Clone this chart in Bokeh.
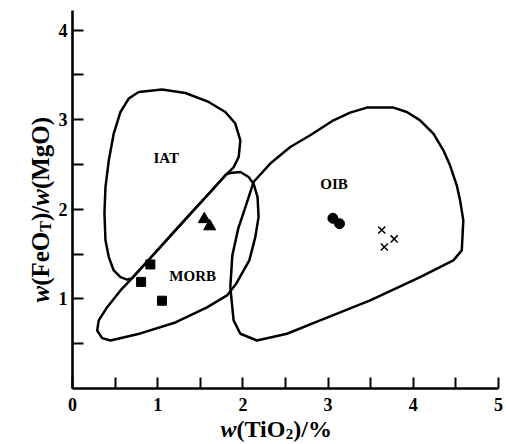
import math
from bokeh.plotting import figure
from bokeh.models import Range1d, FixedTicker, Label, LinearAxis
from bokeh.core.properties import value
from bokeh.embed import file_html
from bokeh.resources import INLINE

# ---- field boundaries (data coordinates) ----
iat_x = [0.777, 1.052, 1.325, 1.598, 1.794, 1.911, 1.970, 1.950, 1.891, 1.805,
         1.618, 1.383, 1.149, 0.914, 0.700, 0.641, 0.563, 0.484, 0.426, 0.387,
         0.375, 0.387, 0.426, 0.484, 0.563, 0.660]
iat_y = [3.311, 3.337, 3.299, 3.199, 3.087, 2.958, 2.771, 2.584, 2.469, 2.391,
         2.194, 1.949, 1.703, 1.457, 1.232, 1.215, 1.244, 1.318, 1.467, 1.654,
         1.955, 2.249, 2.547, 2.846, 3.087, 3.237]

morb_x = [1.805, 1.618, 1.383, 1.149, 0.914, 0.700, 0.563, 0.407, 0.308, 0.290,
          0.348, 0.445, 0.797, 1.208, 1.579, 1.814, 1.923, 2.075, 2.145, 2.184,
          2.172, 2.125, 2.067, 1.970, 1.852]
morb_y = [2.391, 2.194, 1.949, 1.703, 1.457, 1.232, 1.095, 0.908, 0.760, 0.648,
          0.562, 0.536, 0.615, 0.737, 0.905, 1.039, 1.173, 1.430, 1.687, 1.914,
          2.137, 2.287, 2.361, 2.417, 2.406]

oib_x = [2.125, 2.321, 2.556, 2.790, 3.063, 3.259, 3.455, 3.767, 3.924, 4.080,
         4.236, 4.353, 4.431, 4.510, 4.549, 4.587, 4.569, 4.470, 4.080, 3.494,
         2.907, 2.517, 2.165, 1.970, 1.891, 1.852, 1.876, 1.946, 2.040]
oib_y = [2.305, 2.511, 2.696, 2.827, 2.994, 3.080, 3.136, 3.136, 3.087, 2.994,
         2.846, 2.659, 2.492, 2.268, 2.101, 1.877, 1.542, 1.430, 1.244, 0.983,
         0.760, 0.611, 0.536, 0.611, 0.760, 1.132, 1.486, 1.788, 2.056]

field_names = ["IAT", "MORB", "OIB"]
field_label_x = [1.10, 1.41, 3.07]
field_label_y = [2.57, 1.26, 2.28]

# ---- samples ----
square_x = [0.914, 0.805, 1.05]
square_y = [1.385, 1.19, 0.98]
triangle_x = [1.547, 1.61]
triangle_y = [1.89, 1.81]
circle_x = [3.056, 3.134]
circle_y = [1.90, 1.84]
cross_x = [3.63, 3.775, 3.66]
cross_y = [1.77, 1.67, 1.58]

x_ticks = [0, 1, 2, 3, 4, 5]
x_minor = [0.5, 1.5, 2.5, 3.5, 4.5]
y_ticks = [1, 2, 3, 4]
y_minor = [0.5, 1.5, 2.5, 3.5]
x_axis_end = 5.0
y_axis_end = 4.22

FONT = "Liberation Serif"
W, H = 506, 444
# pixel position of the data origin and scale (frame covers the whole canvas)
OX, OY = 72, 388
SX = (498 - OX) / x_axis_end
SY = (OY - 10) / y_axis_end

p = figure(width=W, height=H, output_backend="svg", toolbar_location=None,
           x_range=Range1d(-OX / SX, (W - OX) / SX),
           y_range=Range1d(-(H - OY) / SY, OY / SY),
           x_axis_location=None, y_axis_location=None,
           min_border_left=0, min_border_right=0, min_border_top=0,
           min_border_bottom=0)
p.outline_line_color = None
p.grid.visible = False
p.background_fill_color = "white"
p.border_fill_color = "white"

xax = LinearAxis(fixed_location=0, bounds=(0, x_axis_end),
                 ticker=FixedTicker(ticks=x_ticks, minor_ticks=x_minor))
yax = LinearAxis(fixed_location=0, bounds=(0, y_axis_end),
                 ticker=FixedTicker(ticks=y_ticks, minor_ticks=y_minor))
for ax in (xax, yax):
    ax.axis_line_width = 2.6
    ax.axis_line_color = "black"
    ax.major_tick_in = 11
    ax.major_tick_out = 0
    ax.minor_tick_in = 11
    ax.minor_tick_out = 0
    ax.major_tick_line_width = 2
    ax.minor_tick_line_width = 2
    ax.major_tick_line_color = "black"
    ax.minor_tick_line_color = "black"
    ax.major_label_text_font = FONT
    ax.major_label_text_font_style = "bold"
    ax.major_label_text_font_size = "18px"
    ax.major_label_text_color = "black"
xax.major_label_standoff = 9
yax.major_label_standoff = 5
p.add_layout(xax, "below")
p.add_layout(yax, "left")

for xs, ys in ((iat_x, iat_y), (morb_x, morb_y), (oib_x, oib_y)):
    p.line(xs + xs[:1], ys + ys[:1], line_color="black", line_width=2.5,
           line_join="round")

p.text(field_label_x, field_label_y, text=field_names, text_font=value(FONT),
       text_font_style="bold", text_font_size="15px", text_align="center",
       text_baseline="middle", text_color="black")

p.scatter(square_x, square_y, marker="square", size=9, color="black")
p.scatter(triangle_x, triangle_y, marker="triangle", size=12, color="black")
p.scatter(circle_x, circle_y, marker="circle", size=10, color="black")
p.scatter(cross_x, cross_y, marker="x", size=10, line_color="black",
          line_width=1.5)

# ---- axis titles built from pieces (italic w, subscripts) ----
# "screen" units: measured from the frame's bottom-left (= canvas bottom-left)
def piece(txt, fx, fy, size, style, angle=0.0):
    p.add_layout(Label(x=fx, y=H - fy, x_units="screen", y_units="screen",
                       text=txt, angle=angle, text_font=FONT,
                       text_font_style=style, text_font_size=f"{size}px",
                       text_align="left", text_baseline="alphabetic",
                       text_color="black"))

# x title: w(TiO2)/%
fs = 24
bx, by = 220, 428
piece("w", bx, by, fs, "bold italic"); bx += 0.667 * fs
piece("(TiO", bx, by, fs, "bold"); bx += 2.056 * fs
piece("2", bx, by + 5, 15, "bold"); bx += 0.5 * 15
piece(")/%", bx, by, fs, "bold")

# y title: w(FeO_T)/w(MgO), rotated
fs = 25
ax_, ay = 40, 302
a = math.pi / 2
piece("w", ax_, ay, fs, "bold italic", a); ay -= 0.667 * fs
piece("(FeO", ax_, ay, fs, "bold", a); ay -= 2.166 * fs
piece("T", ax_ + 5, ay, 16, "bold", a); ay -= 0.667 * 16
piece(")/", ax_, ay, fs, "bold", a); ay -= 0.611 * fs
piece("w", ax_, ay, fs, "bold italic", a); ay -= 0.667 * fs
piece("(MgO)", ax_, ay, fs, "bold", a)

open("out.html", "w").write(file_html(p, INLINE))
